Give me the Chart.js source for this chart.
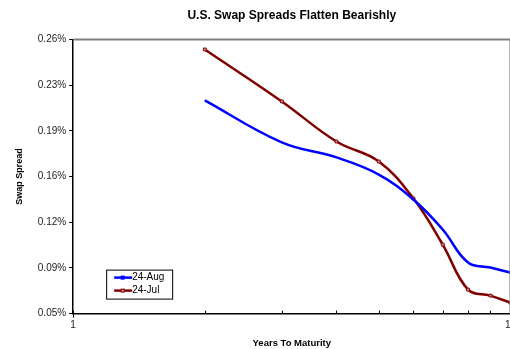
<!DOCTYPE html>
<html lang="en">
<head>
<meta charset="utf-8">
<title>U.S. Swap Spreads Flatten Bearishly</title>
<script src="https://cdn.jsdelivr.net/npm/chart.js"></script>
<style>
    html, body {
        margin: 0;
        padding: 0;
        background: #fff;
        overflow: hidden;
    }
    #wrap {
        width: 522px;
        height: 349px;
    }
</style>
</head>
<body>
<div id="wrap"><canvas id="swapChart"></canvas></div>
<script>
    // years to maturity and spreads (in %)
    const maturities = [2, 3, 4, 5, 6, 7, 8, 9, 10];
    const aug24 = [0.2133, 0.1811, 0.1696, 0.1565, 0.1374, 0.1144, 0.0891, 0.0853, 0.0814];
    const jul24 = [0.2523, 0.2125, 0.1818, 0.1665, 0.1381, 0.1029, 0.0684, 0.0638, 0.0584];

    const yTicks = [0.05, 0.085, 0.12, 0.155, 0.19, 0.225, 0.26];
    const yTickLabels = ['0.05%', '0.09%', '0.12%', '0.16%', '0.19%', '0.23%', '0.26%'];
    const xTicks = [1, 2, 3, 4, 5, 6, 7, 8, 9, 10];
    const xTickLabels = ['1', '', '', '', '', '', '', '', '', '10'];

    const FONT = "'Liberation Sans', Arial, sans-serif";

    // box legend inside the plot + inner x ticks + grey top/right frame
    const excelBits = {
        id: 'excelBits',
        afterDraw(chart) {
            const ctx = chart.ctx;
            const area = chart.chartArea;
            const xs = chart.scales.x;

            ctx.save();
            ctx.strokeStyle = '#808080';
            ctx.lineWidth = 2;
            ctx.beginPath();
            ctx.moveTo(area.left, area.top);
            ctx.lineTo(area.right, area.top);
            ctx.lineTo(area.right, area.bottom);
            ctx.stroke();

            ctx.strokeStyle = '#000';
            ctx.lineWidth = 1;
            xTicks.forEach(v => {
                const px = Math.round(xs.getPixelForValue(v)) + 0.5;
                ctx.beginPath();
                if (v === 1 || v === 10) {
                    ctx.moveTo(px, area.bottom - 3);
                    ctx.lineTo(px, area.bottom + 4);
                } else {
                    ctx.moveTo(px, area.bottom - 3);
                    ctx.lineTo(px, area.bottom);
                }
                ctx.stroke();
            });

            // legend box
            const bx = area.left + 33;
            const by = area.bottom - 44;
            const bw = 66, bh = 29;
            ctx.fillStyle = '#fff';
            ctx.fillRect(bx, by, bw, bh);
            ctx.strokeStyle = '#000';
            ctx.lineWidth = 1;
            ctx.strokeRect(bx + 0.5, by + 0.5, bw, bh);

            ctx.font = '10px ' + FONT;
            ctx.textBaseline = 'middle';
            chart.data.datasets.forEach((ds, i) => {
                const cy = by + 8 + i * 13;
                ctx.strokeStyle = ds.borderColor;
                ctx.lineWidth = 2.5;
                ctx.beginPath();
                ctx.moveTo(bx + 8, cy);
                ctx.lineTo(bx + 26, cy);
                ctx.stroke();
                ctx.fillStyle = ds.pointBackgroundColor;
                ctx.strokeStyle = ds.borderColor;
                ctx.lineWidth = 1;
                ctx.fillRect(bx + 15, cy - 1.5, 3, 3);
                ctx.strokeRect(bx + 15, cy - 1.5, 3, 3);
                ctx.fillStyle = '#000';
                ctx.fillText(ds.label, bx + 26, cy);
            });
            ctx.restore();
        }
    };

    const ctx = document.getElementById('swapChart').getContext('2d');
    new Chart(ctx, {
        type: 'line',
        data: {
            datasets: [
                {
                    label: '24-Aug',
                    data: maturities.map((m, i) => ({ x: m, y: aug24[i] })),
                    borderColor: '#0000ff',
                    borderWidth: 2.5,
                    pointStyle: 'rect',
                    pointRadius: 0,
                    pointBackgroundColor: '#0000ff',
                    pointBorderColor: '#0000ff',
                    tension: 0.4,
                    fill: false
                },
                {
                    label: '24-Jul',
                    data: maturities.map((m, i) => ({ x: m, y: jul24[i] })),
                    borderColor: '#800000',
                    borderWidth: 2.5,
                    pointStyle: 'rect',
                    pointRadius: 2,
                    pointBorderWidth: 1,
                    pointBackgroundColor: '#d9a0a0',
                    pointBorderColor: '#800000',
                    tension: 0.4,
                    fill: false
                }
            ]
        },
        options: {
            responsive: true,
            maintainAspectRatio: false,
            animation: false,
            layout: { padding: { left: 14, right: 0, top: 0, bottom: 0 } },
            scales: {
                x: {
                    type: 'logarithmic',
                    min: 1,
                    max: 10,
                    afterBuildTicks: scale => {
                        scale.ticks = xTicks.map(v => ({ value: v }));
                    },
                    ticks: {
                        autoSkip: false,
                        maxRotation: 0,
                        padding: 6,
                        color: '#222',
                        font: { family: FONT, size: 10 },
                        callback: (v, i) => xTickLabels[i]
                    },
                    grid: { display: false, drawTicks: false, tickLength: 0 },
                    border: { color: '#000', width: 1.5 },
                    title: {
                        display: true,
                        text: 'Years To Maturity',
                        color: '#000',
                        font: { family: FONT, size: 9.5, weight: 'bold' },
                        padding: { top: 0, bottom: 0 }
                    }
                },
                y: {
                    min: 0.05,
                    max: 0.26,
                    afterBuildTicks: scale => {
                        scale.ticks = yTicks.map(v => ({ value: v }));
                    },
                    ticks: {
                        padding: 3,
                        color: '#222',
                        font: { family: FONT, size: 10 },
                        callback: (v, i) => yTickLabels[i]
                    },
                    grid: {
                        drawOnChartArea: false,
                        drawTicks: true,
                        tickLength: 4,
                        color: '#000'
                    },
                    border: { color: '#000', width: 1.5 },
                    title: {
                        display: true,
                        text: 'Swap Spread',
                        color: '#000',
                        font: { family: FONT, size: 9, weight: 'bold' },
                        padding: { top: 0, bottom: 10 }
                    }
                }
            },
            plugins: {
                legend: { display: false },
                tooltip: { enabled: false },
                title: {
                    display: true,
                    fullSize: false,
                    text: 'U.S. Swap Spreads Flatten Bearishly',
                    color: '#000',
                    font: { family: FONT, size: 12, weight: 'bold' },
                    padding: { top: 8, bottom: 17 }
                }
            }
        },
        plugins: [excelBits]
    });
</script>
</body>
</html>
